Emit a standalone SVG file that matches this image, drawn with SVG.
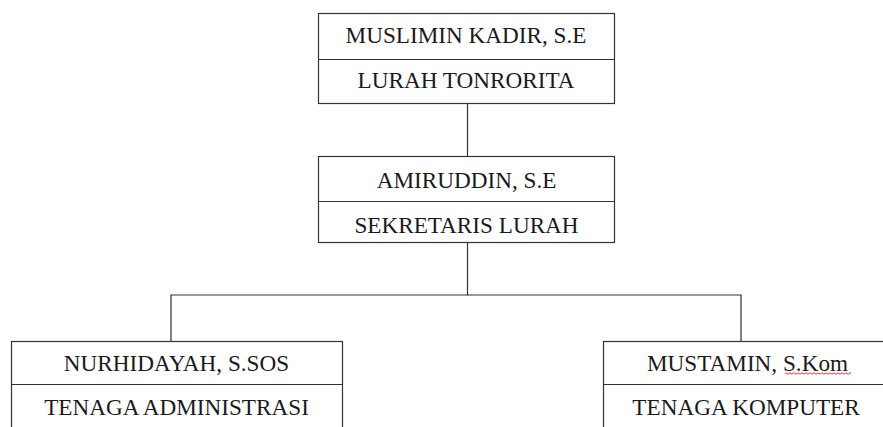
<svg xmlns="http://www.w3.org/2000/svg" width="883" height="427" viewBox="0 0 883 427">
<style>
.box{fill:#fff;stroke:#333;stroke-width:1.2}
.div{stroke:#333;stroke-width:1.2}
.conn{fill:none;stroke:#333;stroke-width:1.2}
text{font-family:"Liberation Serif","Times New Roman",serif;font-size:23.2px;fill:#1a1a1a;text-anchor:middle}
</style>
<rect width="883" height="427" fill="#fff"/>
<g id="connectors">
<line class="conn" x1="467.5" y1="103.5" x2="467.5" y2="156.5"/>
<polyline class="conn" points="467.5,242.5 467.5,295 171,295 171,341.5"/>
<polyline class="conn" points="467.5,295 741,295 741,341.5"/>
</g>
<g id="lurah">
<rect class="box" x="318.5" y="13.5" width="296" height="90"/>
<line class="div" x1="318.5" y1="59.5" x2="614.5" y2="59.5"/>
<text x="466" y="42.5">MUSLIMIN KADIR, S.E</text>
<text x="466" y="88.3">LURAH TONRORITA</text>
</g>
<g id="sekretaris">
<rect class="box" x="318.5" y="156.5" width="296" height="86"/>
<line class="div" x1="318.5" y1="201.5" x2="614.5" y2="201.5"/>
<text x="466.5" y="188.3">AMIRUDDIN, S.E</text>
<text x="466.5" y="233.3">SEKRETARIS LURAH</text>
</g>
<g id="administrasi">
<rect class="box" x="11.5" y="341.5" width="331" height="100"/>
<line class="div" x1="11.5" y1="384.5" x2="342.5" y2="384.5"/>
<text x="176.5" y="371">NURHIDAYAH, S.SOS</text>
<text x="176.5" y="415.3">TENAGA ADMINISTRASI</text>
</g>
<g id="komputer">
<rect class="box" x="603.5" y="341.5" width="300" height="100"/>
<line class="div" x1="603.5" y1="384.5" x2="903.5" y2="384.5"/>
<text x="747.5" y="371">MUSTAMIN, S.Kom</text>
<path d="M785,373.5 q1,-1.5 2,0 t2,0 t2,0 t2,0 t2,0 t2,0 t2,0 t2,0 t2,0 t2,0 t2,0 t2,0 t2,0 t2,0 t2,0 t2,0 t2,0 t2,0 t2,0 t2,0 t2,0 t2,0 t2,0 t2,0 t2,0 t2,0 t2,0 t2,0 t2,0 t2,0 t2,0 t2,0 t2,0" fill="none" stroke="#e02020" stroke-width="0.9"/>
<text x="746" y="415.3">TENAGA KOMPUTER</text>
</g>
</svg>
